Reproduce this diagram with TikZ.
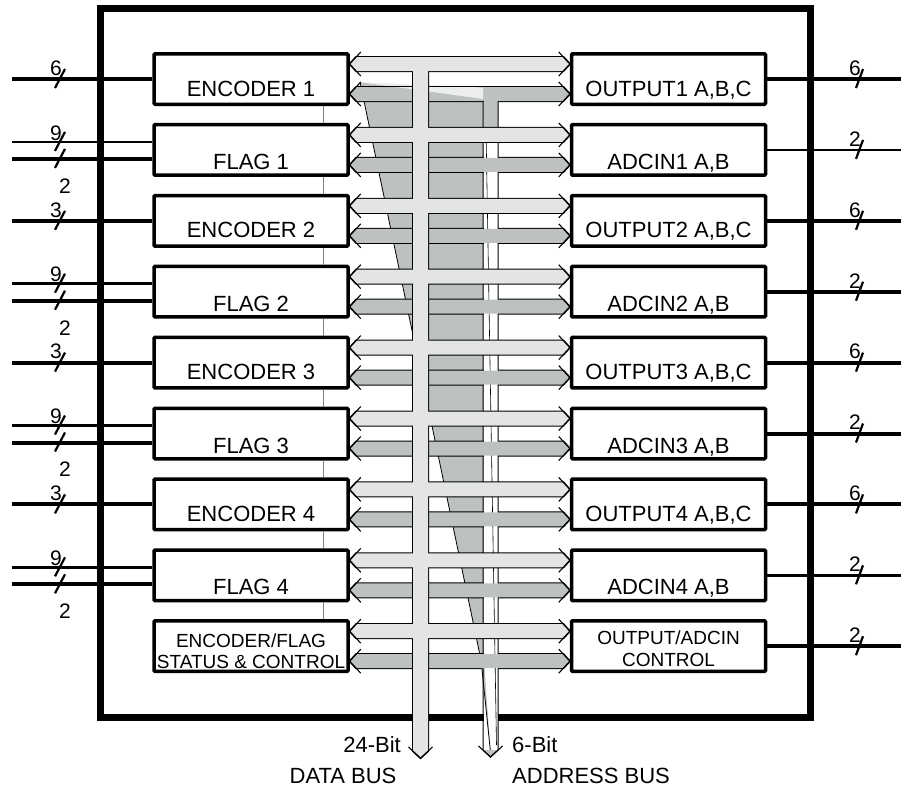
\documentclass[tikz,border=0pt]{standalone}
\usepackage{fontspec}
\setmainfont{Liberation Sans}
\usetikzlibrary{calc}
\usepackage{xcolor}

\definecolor{buslight}{HTML}{E3E4E6}
\definecolor{busdark}{HTML}{BEC1C1}
\definecolor{busface}{HTML}{EDEEEE}

% bus pieces: double headed arrow between two tips, bus going down to a tip
\newcommand{\dblbody}[2]{(#1) -- ($(#1)+(6.4,-7)$) -- ($(#2)+(-6.4,-7)$) -- (#2) -- ($(#2)+(-6.4,7)$) -- ($(#1)+(6.4,7)$) -- cycle}
\newcommand{\dblheads}[2]{($(#1)+(11,-12)$) -- (#1) -- ($(#1)+(11,12)$) ($(#2)+(-11,-12)$) -- (#2) -- ($(#2)+(-11,12)$)}
\newcommand{\downbody}[2]{($(#1)+(-7.5,0)$) -- ($(#2)+(-7.5,-6.9)$) -- (#2) -- ($(#2)+(7.5,-6.9)$) -- ($(#1)+(7.5,0)$) -- cycle}
\newcommand{\downhead}[1]{($(#1)+(-12,-11)$) -- (#1) -- ($(#1)+(12,-11)$)}

\begin{document}
\begin{tikzpicture}[x=1pt, y=-1pt,
    blk/.style={draw, line width=3.5pt, rounded corners=1pt, minimum width=194pt, minimum height=50.5pt, inner sep=0pt, font=\fontsize{22}{24}\selectfont},
    lowA/.style={text height=34pt, text depth=0pt},
    lowB/.style={text height=39pt, text depth=0pt},
    two/.style={align=center, inner sep=0pt, font=\fontsize{19}{20.5}\selectfont},
    bwnum/.style={inner sep=0pt, font=\fontsize{21}{23}\selectfont},
    lbl/.style={inner sep=0pt, font=\fontsize{22}{24}\selectfont},
    fat/.style={line width=4pt},
    slim/.style={line width=2.5pt},
    bwmark/.style={line width=2.2pt},
    outl/.style={draw=black, line width=2pt},
    tipl/.style={line width=1.1pt}
  ]
  \useasboundingbox (0,0) rectangle (901,790);

  % chip outline
  \draw[line width=7pt] (100.5,8.5) rectangle (810.5,717);

  % encoder / flag blocks
  \foreach \i/\txt/\lo in {0/ENCODER 1/lowA, 1/FLAG 1/lowB, 2/ENCODER 2/lowA, 3/FLAG 2/lowB,
      4/ENCODER 3/lowA, 5/FLAG 3/lowB, 6/ENCODER 4/lowA, 7/FLAG 4/lowB}
    \node[blk, \lo] (L\i) at (251, {79+70.9*\i}) {\txt};
  \node[blk] (L8) at (251, {79+70.9*8}) {};
  \node[two] (L8t) at ([yshift=-5pt]L8.center) {ENCODER/FLAG\\STATUS \& CONTROL};

  % output / adcin blocks
  \foreach \i/\txt/\lo in {0/{OUTPUT1 A,B,C}/lowA, 1/{ADCIN1 A,B}/lowB, 2/{OUTPUT2 A,B,C}/lowA, 3/{ADCIN2 A,B}/lowB,
      4/{OUTPUT3 A,B,C}/lowA, 5/{ADCIN3 A,B}/lowB, 6/{OUTPUT4 A,B,C}/lowA, 7/{ADCIN4 A,B}/lowB}
    \node[blk, \lo] (R\i) at (668.5, {79+70.9*\i}) {\txt};
  \node[blk] (R8) at (668.5, {79+70.9*8}) {};
  \node[two, font=\fontsize{19}{22}\selectfont] (R8t) at ([yshift=-2pt]R8.center) {OUTPUT/ADCIN\\CONTROL};

  % thin links between the left blocks
  \foreach \i [count=\j from 1] in {0,...,7}
    \draw[gray, line width=1pt] ([xshift=72pt]L\i.south) -- ([xshift=72pt]L\j.north);

  % arrow tips at the blocks
  \foreach \i in {0,...,8}{
    \coordinate (la\i) at ([yshift=15pt]L\i.east);
    \coordinate (ra\i) at ([yshift=15pt]R\i.west);
    \coordinate (lb\i) at ([yshift=-15pt]L\i.east);
    \coordinate (rb\i) at ([yshift=-15pt]R\i.west);
  }
  \coordinate (dtop) at (420.5,64);
  \coordinate (dtip) at (420.5,758);
  \coordinate (atop) at (490.5,94);
  \coordinate (atip) at (490.5,757);

  % address bus (dark)
  \fill[busdark] (360,82) -- (483,99) -- (484,660) -- (481,660) -- cycle;
  \draw[line width=0.8pt] (360,82) -- (481,660);
  \foreach \i in {0,...,8} \draw[outl] \dblbody{lb\i}{rb\i};
  \fill[white] (483.5,100) rectangle (497.5,751);
  \fill[busdark] (483.5,100) rectangle (497.5,128);
  \fill[busdark] (481,660) -- (484,660) -- (490.5,752) -- cycle;
  \draw[line width=0.8pt] (481,660) -- (490.5,752);
  \draw[line width=0.6pt] (486,128) -- (496.5,745);
  \fill[busdark] ($(atip)+(-7.5,-6.9)$) -- (atip) -- ($(atip)+(7.5,-6.9)$) -- cycle;
  \draw[line width=1pt] ($(atop)+(-7.5,0)$) -- ($(atip)+(-7.5,-6.9)$) -- (atip) -- ($(atip)+(7.5,-6.9)$) -- ($(atop)+(7.5,0)$);
  \foreach \i in {0,...,8} \fill[busdark] \dblbody{lb\i}{rb\i};
  \fill[busface] (360,82) -- (483,87.6) -- (483,99) -- cycle;
  \draw[line width=1pt] ($(lb0)+(6.4,-7.5)$) -- ($(lb0)+(133,-7.5)$);
  \foreach \i in {0,...,8} \draw[tipl] \dblheads{lb\i}{rb\i};
  \draw[tipl] \downhead{atip};

  % data bus (light)
  \draw[outl] \downbody{dtop}{dtip};
  \foreach \i in {0,...,8} \draw[outl] \dblbody{la\i}{ra\i};
  \fill[buslight] \downbody{dtop}{dtip};
  \foreach \i in {0,...,8} \fill[buslight] \dblbody{la\i}{ra\i};
  \foreach \i in {0,...,8} \draw[tipl] \dblheads{la\i}{ra\i};
  \draw[tipl] \downhead{dtip};

  % pins on the left
  \coordinate (inl) at (12,0);
  \coordinate (inr) at (901,0);
  \foreach \i/\n in {0/6, 2/3, 4/3, 6/3}{
    \draw[fat] (L\i.west) -- (L\i.west -| inl);
    \draw[bwmark] ($(L\i.west -| inl)+(43,9)$) -- ++(10,-19);
    \node[bwnum] (nl\i) at ($(L\i.west -| inl)+(44,-11)$) {\n};
  }
  \foreach \i in {1,3,5,7}{
    \draw[slim] ([yshift=8pt]L\i.west) -- ([yshift=8pt]L\i.west -| inl);
    \draw[fat] ([yshift=-9pt]L\i.west) -- ([yshift=-9pt]L\i.west -| inl);
    \draw[bwmark] ($([yshift=8pt]L\i.west -| inl)+(43,9)$) -- ++(10,-19);
    \draw[bwmark] ($([yshift=-9pt]L\i.west -| inl)+(43,9)$) -- ++(10,-19);
    \node[bwnum] (nf\i) at ($([yshift=8pt]L\i.west -| inl)+(44,-9)$) {9};
    \node[bwnum] (ns\i) at ($([yshift=-9pt]L\i.west -| inl)+(53,27)$) {2};
  }

  % pins on the right
  \foreach \i/\n/\w in {0/6/fat, 1/2/slim, 2/6/fat, 3/2/fat, 4/6/fat, 5/2/fat, 6/6/fat, 7/2/slim, 8/2/fat}{
    \draw[\w] (R\i.east) -- (R\i.east -| inr);
    \draw[bwmark] ($(R\i.east -| inr)+(-45,9)$) -- ++(7,-19);
    \node[bwnum] (nr\i) at ($(R\i.east -| inr)+(-46,-11)$) {\n};
  }

  % bus names
  \node[lbl, anchor=east] (dwidth) at (401,745) {24-Bit};
  \node[lbl] (dname) at (343,776) {DATA BUS};
  \node[lbl, anchor=west] (awidth) at (512,745) {6-Bit};
  \node[lbl, anchor=west] (aname) at (512,776) {ADDRESS BUS};
\end{tikzpicture}
\end{document}
